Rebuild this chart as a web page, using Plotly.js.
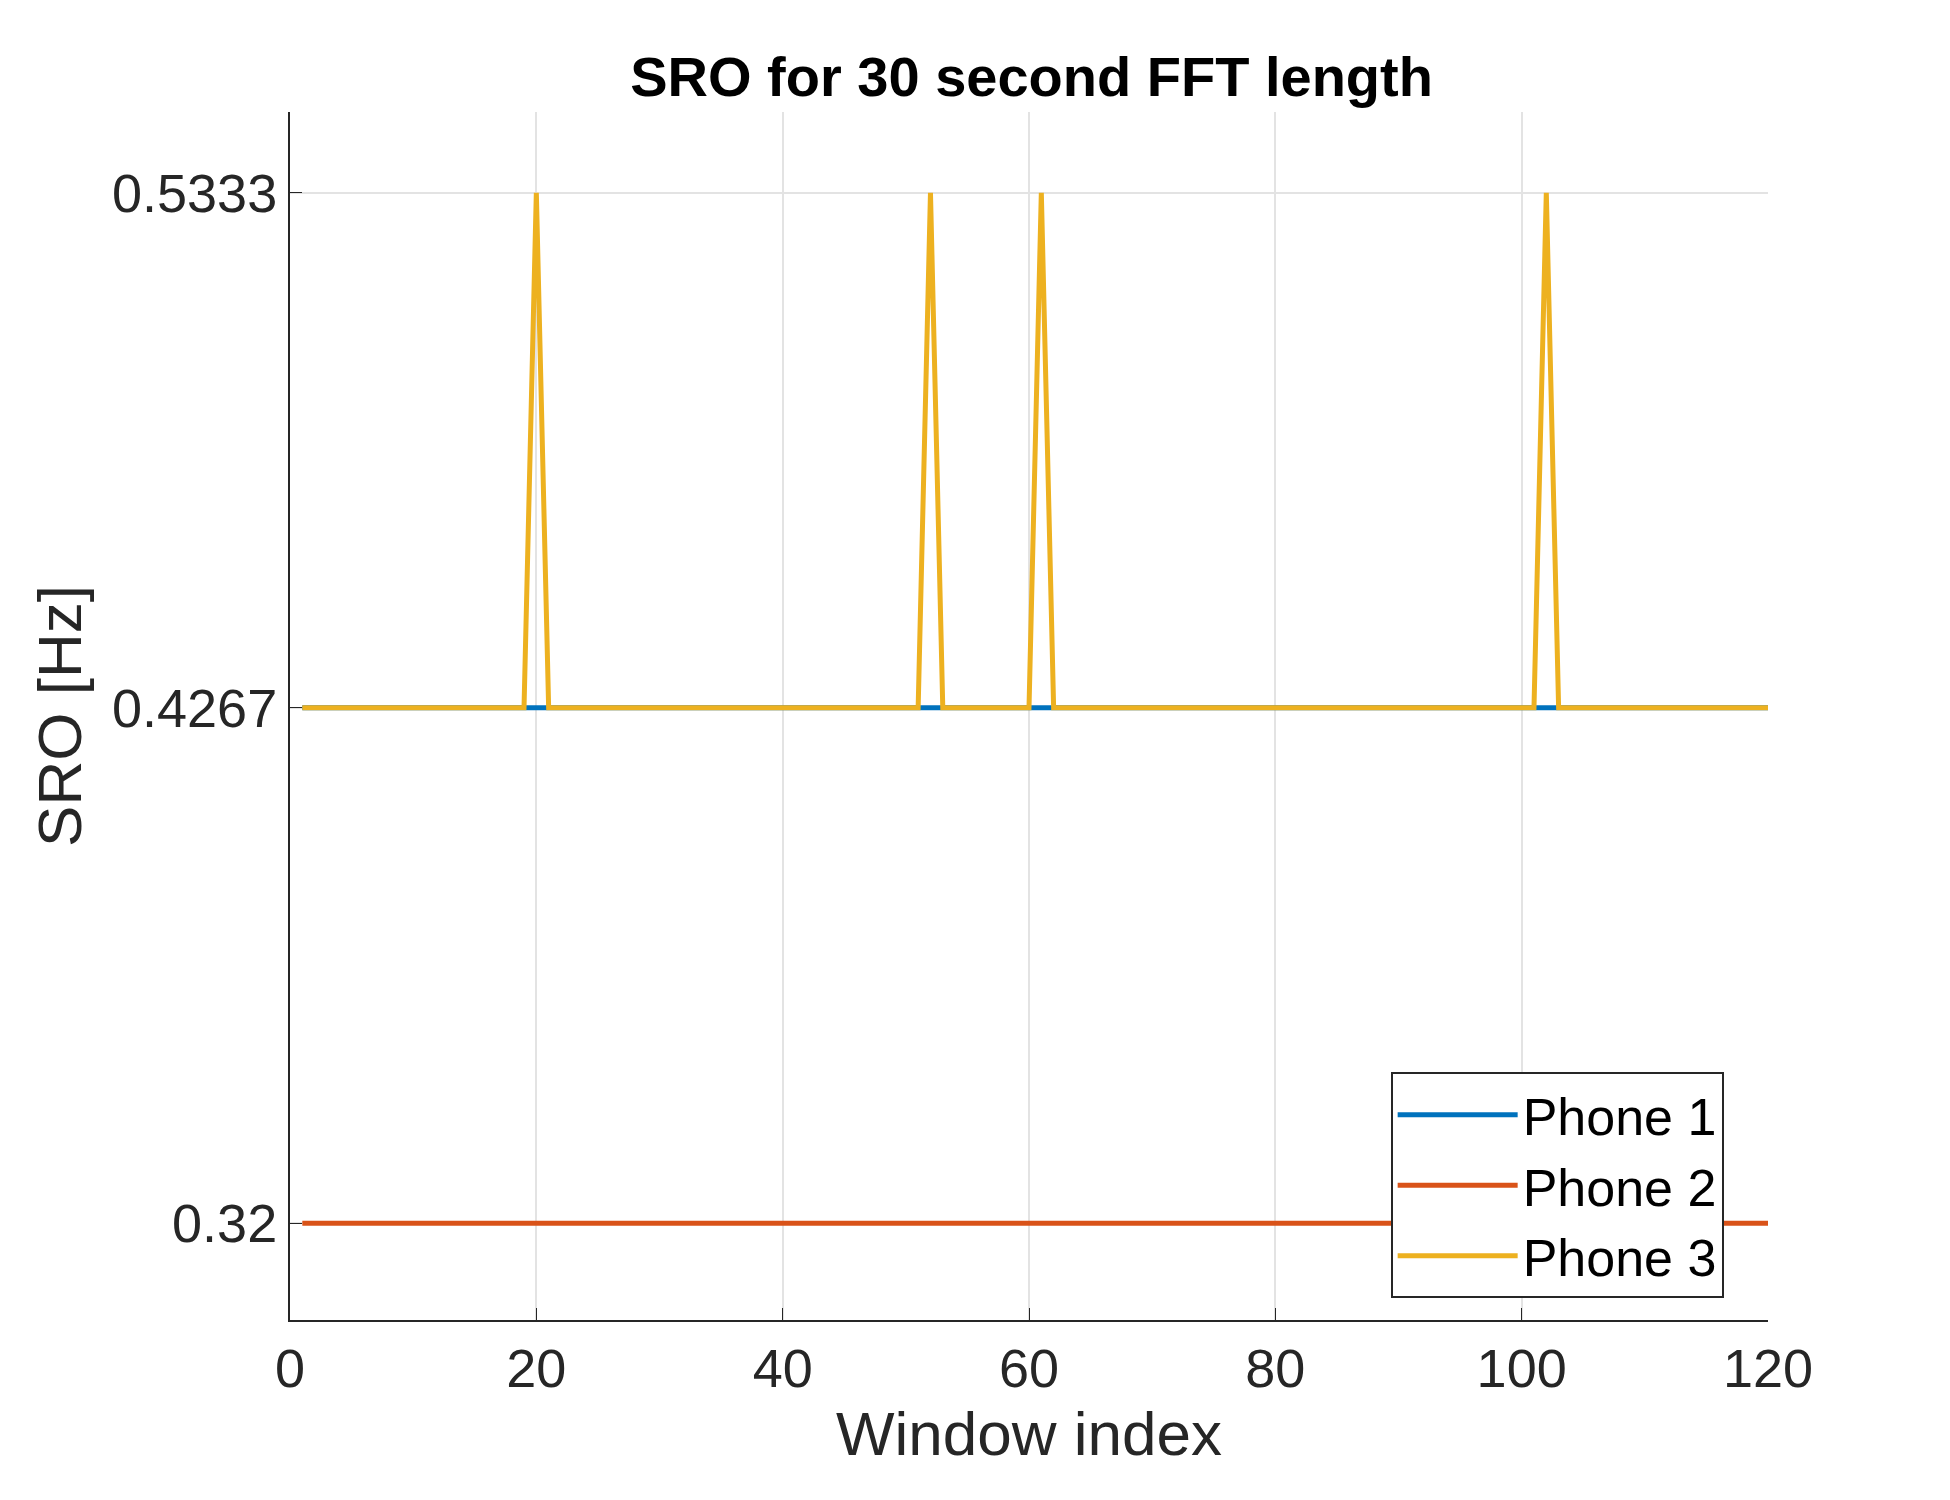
<!DOCTYPE html>
<html>
<head>
<meta charset="utf-8">
<script src="https://cdn.plot.ly/plotly-3.0.1.min.js"></script>
<style>body{margin:0;background:#fff}</style>
</head>
<body>
<div id="myGraph" style="width:1950px;height:1500px"></div>
<script>
// window indices 1..120
let windows = [];
for (let i = 1; i <= 120; i++) windows.push(i);

let phone1Level = 0.4267;
let phone2Level = 0.32;
let phone3Level = 0.4267;
let spikeLevel = 0.5333;
let spikeWindows = [20, 52, 61, 102];

let phone1 = windows.map(w => phone1Level);
let phone2 = windows.map(w => phone2Level);
let phone3 = windows.map(w => spikeWindows.includes(w) ? spikeLevel : phone3Level);

let yTicks = [0.32, 0.4267, 0.5333];

let mk = (y, name, color) => ({
  type: "scatter", mode: "lines", x: windows, y: y, name: name,
  line: { color: color, width: 5 }
});

let data = [
  mk(phone1, "Phone 1", "#0072BD"),
  mk(phone2, "Phone 2", "#D95319"),
  mk(phone3, "Phone 3", "#EDB120"),
];

let axisFont = { family: "Arial, Liberation Sans", size: 54, color: "#262626" };

let layout = {
  paper_bgcolor: "#fff",
  plot_bgcolor: "#fff",
  margin: { l: 290, r: 182, t: 112, b: 180 },
  title: {
    text: "<b>SRO for 30 second FFT length</b>",
    x: 0.529, xanchor: "center", y: 0.962,
    font: { family: "Arial, Liberation Sans", size: 56, color: "#000" }
  },
  xaxis: {
    range: [0, 120],
    tickvals: [0, 20, 40, 60, 80, 100, 120],
    tickfont: axisFont,
    ticks: "inside", ticklen: 12, tickcolor: "#262626",
    showgrid: true, gridcolor: "#e3e3e3", gridwidth: 2,
    showline: true, linecolor: "#262626", linewidth: 2,
    zeroline: false,
    title: { text: "Window index", font: { family: "Arial, Liberation Sans", size: 62, color: "#262626" }, standoff: 15 }
  },
  yaxis: {
    range: [0.30, 0.55],
    tickvals: yTicks,
    ticktext: ["0.32", "0.4267", "0.5333"],
    tickfont: axisFont,
    ticks: "inside", ticklen: 12, tickcolor: "#262626",
    showgrid: true, gridcolor: "#e3e3e3", gridwidth: 2,
    showline: true, linecolor: "#262626", linewidth: 2,
    zeroline: false,
    title: { text: "SRO [Hz]", font: { family: "Arial, Liberation Sans", size: 62, color: "#262626" }, standoff: 10 }
  },
  legend: {
    x: 0.97, y: 0.205, xanchor: "right", yanchor: "top",
    bgcolor: "#fff", bordercolor: "#262626", borderwidth: 2,
    itemwidth: 120, tracegroupgap: 0,
    font: { family: "Arial, Liberation Sans", size: 52, color: "#000" }
  },
  showlegend: true
};

Plotly.newPlot(document.getElementById("myGraph"), data, layout, { displayModeBar: false });
</script>
</body>
</html>
